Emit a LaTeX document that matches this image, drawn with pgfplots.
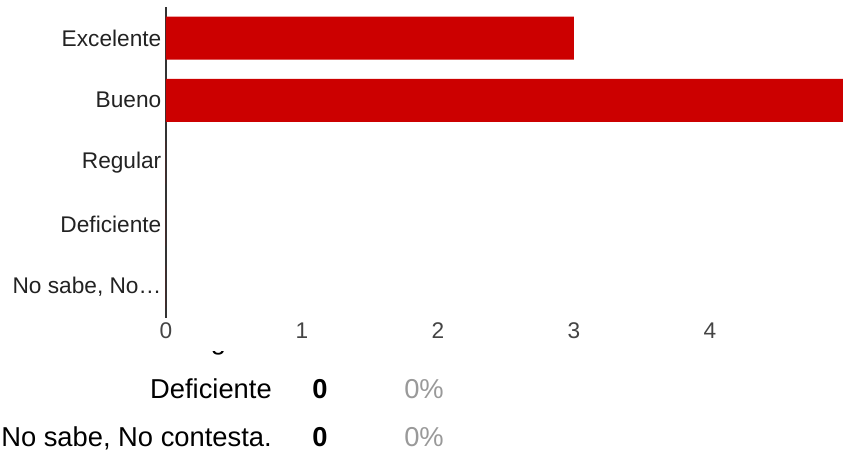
\documentclass[border=0pt]{standalone}
\usepackage{fontspec}
\setmainfont{Liberation Sans}
\usepackage{pgfplots}
\usepackage{pgfplotstable}
\pgfplotsset{compat=1.18}
\definecolor{barred}{HTML}{CC0000}
\definecolor{axisgrey}{HTML}{333333}
\definecolor{labelgrey}{HTML}{222222}
\definecolor{tickgrey}{HTML}{444444}
\definecolor{pctgrey}{HTML}{999999}

% idx: 0 Excelente, 1 Bueno, 2 Regular, 3 Deficiente, 4 No sabe
\pgfplotstableread{
idx value
0 3
1 5
2 0
3 0
4 0
}\respuestas

\begin{document}
\begin{tikzpicture}
\path[use as bounding box] (0,0) rectangle (632.25pt,-342pt);
\begin{axis}[
  at={(124.5pt,-238.5pt)}, anchor=south west,
  scale only axis, width=507.75pt, height=233.25pt,
  xbar, bar width=32.25pt,
  xmin=0, xmax=4.978, ymin=-0.5, ymax=4.5, y dir=reverse,
  axis lines*=left,
  x axis line style={draw=none},
  y axis line style={draw=axisgrey, line width=1.5pt},
  xtick={0,1,2,3,4}, ytick={0,1,2,3,4},
  yticklabels={Excelente,Bueno,Regular,Deficiente,{No sabe, No…}},
  major tick length=0pt,
  tick label style={font=\fontsize{17}{20}\selectfont},
  yticklabel style={text=labelgrey},
  xticklabel style={text=tickgrey},
  /pgf/number format/assume math mode=true,
]
\addplot[fill=barred, draw=none] table[x=value, y=idx] {\respuestas};
\end{axis}
% table of counts below the chart (pixel units, y down)
\begin{scope}[x=0.75pt, y=-0.75pt, every node/.style={inner sep=0pt, font=\fontsize{20.5}{24}\selectfont}]
  \begin{scope}
    \clip (150,351) rectangle (300,370);
    \node[anchor=base east] at (272,349) {Regular};
  \end{scope}
  \node[anchor=base east] at (272,398) {Deficiente};
  \node[anchor=base, font=\fontsize{20.5}{24}\selectfont\bfseries] at (320,398) {0};
  \node[anchor=base, text=pctgrey] at (424,398) {0\%};
  \node[anchor=base east] at (272,446) {No sabe, No contesta.};
  \node[anchor=base, font=\fontsize{20.5}{24}\selectfont\bfseries] at (320,446) {0};
  \node[anchor=base, text=pctgrey] at (424,446) {0\%};
\end{scope}
\end{tikzpicture}
\end{document}
